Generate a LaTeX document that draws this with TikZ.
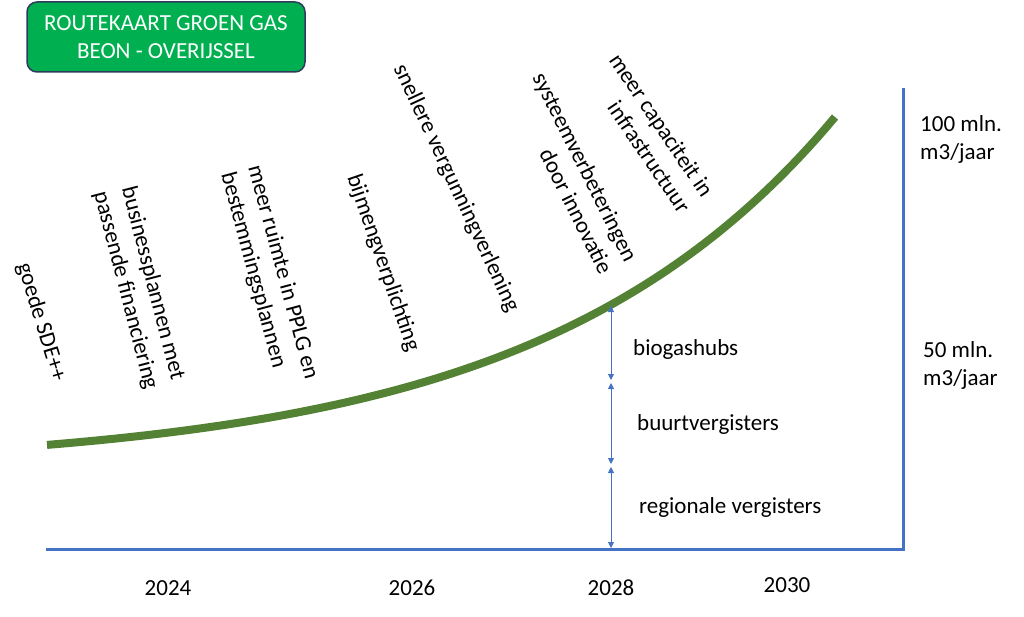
\documentclass[tikz,border=0pt]{standalone}
\usepackage{fontspec}
\setmainfont{Carlito}
\usetikzlibrary{arrows.meta}
\definecolor{axisblue}{HTML}{4472C4}
\definecolor{curvegreen}{HTML}{548235}
\definecolor{titlegreen}{HTML}{00B050}
\definecolor{titleborder}{HTML}{2F3B5C}
\tikzset{
  lbl/.style={font=\fontsize{23}{28}\selectfont, inner sep=0pt, align=left},
  rot/.style={font=\fontsize{23}{28}\selectfont, inner sep=0pt, align=center},
  yr/.style={font=\fontsize{23}{28}\selectfont, inner sep=0pt},
  axisline/.style={draw=axisblue, line width=3pt},
  dim/.style={draw=axisblue, line width=0.9pt, {Triangle[width=6pt,length=6pt]}-{Triangle[width=6pt,length=6pt]}},
  titlebox/.style={draw=titleborder, line width=1.5pt, fill=titlegreen, rounded corners=10pt, text=white,
    font=\fontsize{23}{28}\selectfont, align=center, minimum width=278pt, minimum height=70pt, inner sep=0pt}
}
\begin{document}
\begin{tikzpicture}[x=1pt,y=-1pt]
\useasboundingbox (0,0) rectangle (1024,617);
% title
\node[titlebox] (title) at (166,37) {ROUTEKAART GROEN GAS\\BEON - OVERIJSSEL};
% axes
\coordinate (o) at (46,549);
\coordinate (corner) at (903,549);
\coordinate (top) at (903,88);
\draw[axisline] (o) -- (corner) -- (top);
% growth curve
\draw[curvegreen, line width=8pt] plot[domain=47:835, samples=80, smooth] (\x, {549 - (80+24.1*exp(0.0034*(\x-47)))});
% dimension arrows
\coordinate (a0) at (611,306);
\coordinate (a1) at (611,380);
\coordinate (a2) at (611,383);
\coordinate (a3) at (611,464);
\coordinate (a4) at (611,467);
\coordinate (a5) at (611,548);
\draw[dim] (a0) -- (a1);
\draw[dim] (a2) -- (a3);
\draw[dim] (a4) -- (a5);
\node[lbl, anchor=west] (bio) at (633,349) {biogashubs};
\node[lbl, anchor=west] (buurt) at (637,424) {buurtvergisters};
\node[lbl, anchor=west] (reg) at (639,507) {regionale vergisters};
% right scale labels
\node[lbl, anchor=north west] (s100) at (920,115) {100 mln.\\m3/jaar};
\node[lbl, anchor=north west] (s50) at (923,341) {50 mln.\\m3/jaar};
% years
\node[yr] (y24) at (168,588) {2024};
\node[yr] (y26) at (412,588) {2026};
\node[yr] (y28) at (611,588) {2028};
\node[yr] (y30) at (787,585) {2030};
% rotated labels
\node[rot, rotate=-73] (t1) at (41,322) {goede SDE++};
\node[rot, rotate=-75.5] (t2) at (139,287) {businessplannen met\\passende financiering};
\node[rot, rotate=-75, align=left] (t3) at (269,276) {meer ruimte in PPLG en\\bestemmingsplannen};
\node[rot, rotate=-71] (t4) at (383,263) {bijmengverplichting};
\node[rot, rotate=-65] (t5) at (456,188) {snellere vergunningverlening};
\node[rot, rotate=-63.5, align=right] (t6) at (573,173) {systeemverbeteringen\\door innovatie};
\node[rot, rotate=-56, align=right] (t7) at (650,133) {meer capaciteit in\\infrastructuur};
\end{tikzpicture}
\end{document}
